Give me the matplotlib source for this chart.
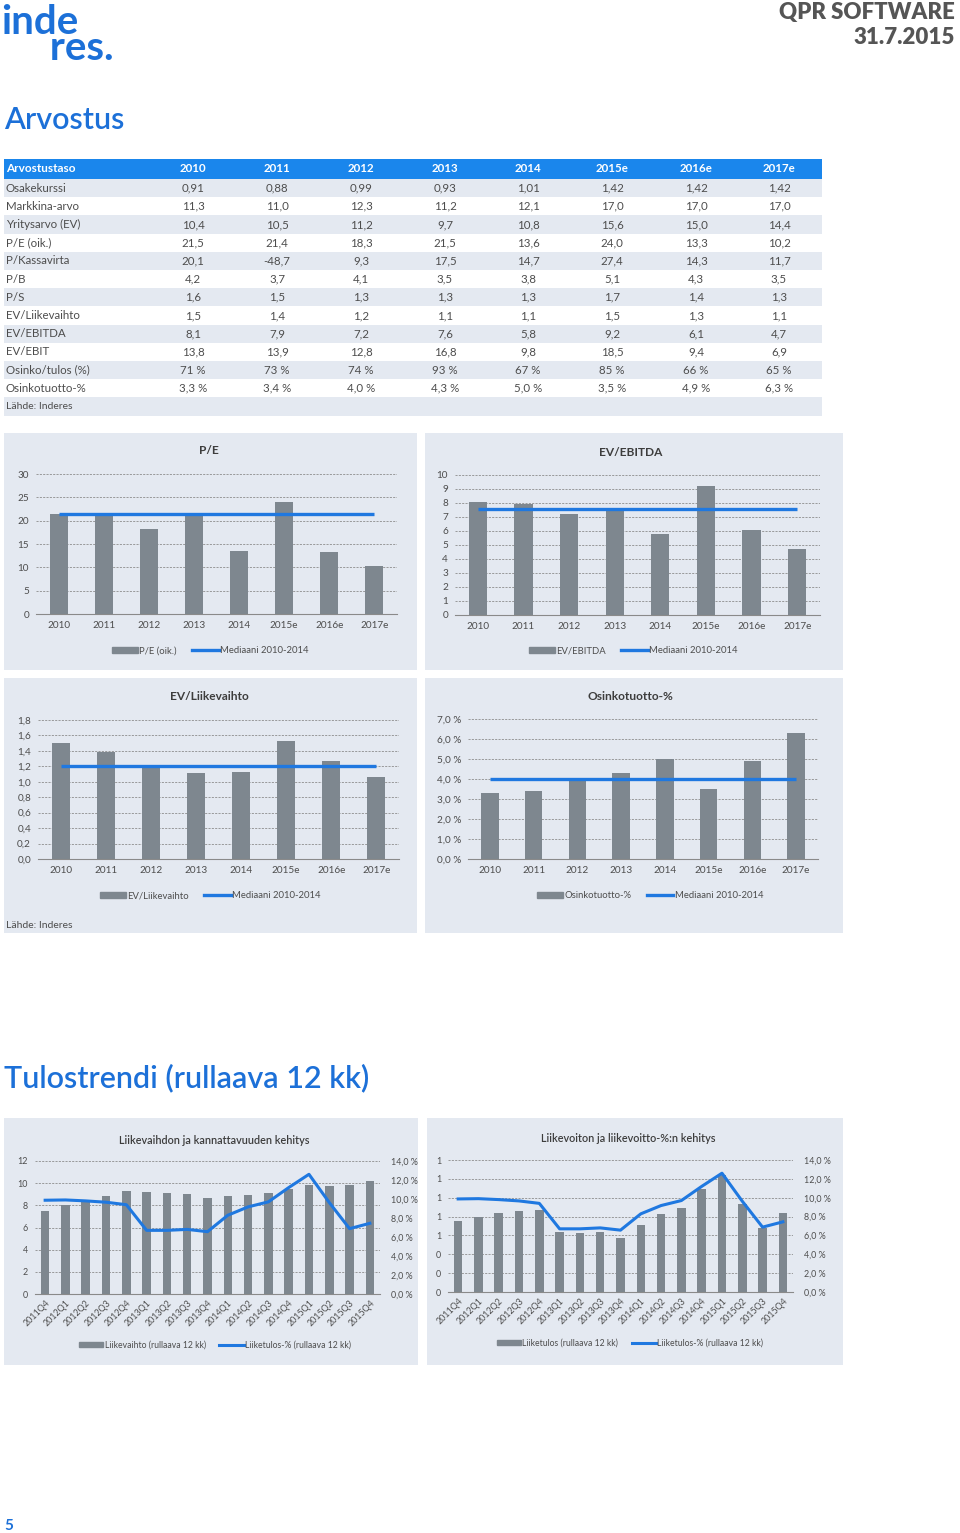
import numpy as np
import matplotlib
matplotlib.use("Agg")
import matplotlib.pyplot as plt
from matplotlib.patches import Rectangle, Patch
from matplotlib.lines import Line2D

plt.rcParams['font.family'] = ['Lato', 'DejaVu Sans']

# ---- data ----
years = ["2010", "2011", "2012", "2013", "2014", "2015e", "2016e", "2017e"]
row_labels = ["Osakekurssi", "Markkina-arvo", "Yritysarvo (EV)", "P/E (oik.)", "P/Kassavirta",
              "P/B", "P/S", "EV/Liikevaihto", "EV/EBITDA", "EV/EBIT", "Osinko/tulos (%)",
              "Osinkotuotto-%"]
osakekurssi = [0.91, 0.88, 0.99, 0.93, 1.01, 1.42, 1.42, 1.42]
markkina_arvo = [11.3, 11.0, 12.3, 11.2, 12.1, 17.0, 17.0, 17.0]
yritysarvo = [10.4, 10.5, 11.2, 9.7, 10.8, 15.6, 15.0, 14.4]
pe = [21.5, 21.4, 18.3, 21.5, 13.6, 24.0, 13.3, 10.2]
p_kassavirta = [20.1, -48.7, 9.3, 17.5, 14.7, 27.4, 14.3, 11.7]
pb = [4.2, 3.7, 4.1, 3.5, 3.8, 5.1, 4.3, 3.5]
ps = [1.6, 1.5, 1.3, 1.3, 1.3, 1.7, 1.4, 1.3]
ev_liikevaihto = [1.5, 1.4, 1.2, 1.1, 1.1, 1.5, 1.3, 1.1]
ev_ebitda = [8.1, 7.9, 7.2, 7.6, 5.8, 9.2, 6.1, 4.7]
ev_ebit = [13.8, 13.9, 12.8, 16.8, 9.8, 18.5, 9.4, 6.9]
osinko_tulos = [71, 73, 74, 93, 67, 85, 66, 65]
osinkotuotto = [3.3, 3.4, 4.0, 4.3, 5.0, 3.5, 4.9, 6.3]

# EV/Liikevaihto as drawn in the chart (unrounded)
ev_liikevaihto_chart = [1.50, 1.39, 1.20, 1.12, 1.13, 1.53, 1.27, 1.06]

quarters = ["2011Q4", "2012Q1", "2012Q2", "2012Q3", "2012Q4", "2013Q1", "2013Q2", "2013Q3",
            "2013Q4", "2014Q1", "2014Q2", "2014Q3", "2014Q4", "2015Q1", "2015Q2", "2015Q3",
            "2015Q4"]
liikevaihto_12kk = [7.5, 8.0, 8.45, 8.85, 9.27, 9.18, 9.1, 9.06, 8.7, 8.82, 8.97, 9.15,
                    9.5, 9.82, 9.76, 9.83, 10.2]
liiketulos_pct = [9.87, 9.9, 9.8, 9.66, 9.4, 6.7, 6.7, 6.8, 6.56, 8.29, 9.17, 9.7,
                  11.2, 12.6, 9.63, 6.88, 7.44]
liiketulos_12kk = [0.75, 0.80, 0.84, 0.86, 0.87, 0.64, 0.63, 0.64, 0.575, 0.71, 0.83, 0.89,
                   1.09, 1.24, 0.93, 0.68, 0.84]

# ---- style ----
W, H = 960, 1533
BLUE = "#1f78e0"
HEAD_BLUE = "#1a86ec"
TITLE_BLUE = "#1c70d8"
GRAY = "#7e878f"
PANEL = "#e4e9f1"
TXT = "#4d4d4d"

fig = plt.figure(figsize=(W / 100, H / 100), dpi=100)
bg = fig.add_axes([0, 0, 1, 1])
bg.set_xlim(0, W)
bg.set_ylim(H, 0)
bg.axis("off")


def px_axes(x, y, w, h):
    return fig.add_axes([x / W, 1 - (y + h) / H, w / W, h / H])


def fi(v, d=1):
    return f"{v:.{d}f}".replace(".", ",")


# ---- header ----
bg.text(1, 4, "inde\n     res.", color=TITLE_BLUE, fontsize=29, fontweight="bold",
        va="top", ha="left", linespacing=0.62)
bg.text(955, 12, "QPR SOFTWARE", color="#555555", fontsize=16, fontweight="heavy",
        ha="right", va="center")
bg.text(955, 38, "31.7.2015", color="#555555", fontsize=16, fontweight="heavy",
        ha="right", va="center")
bg.text(4, 120, "Arvostus", color=TITLE_BLUE, fontsize=22, fontweight="semibold", va="center")
bg.text(4, 1078, "Tulostrendi (rullaava 12 kk)", color=TITLE_BLUE, fontsize=22,
        fontweight="semibold", va="center")
bg.text(4, 1526, "5", color=TITLE_BLUE, fontsize=11, fontweight="bold", va="center")

# ---- table ----
table_rows = [
    [fi(v, 2) for v in osakekurssi],
    [fi(v) for v in markkina_arvo],
    [fi(v) for v in yritysarvo],
    [fi(v) for v in pe],
    [fi(v) for v in p_kassavirta],
    [fi(v) for v in pb],
    [fi(v) for v in ps],
    [fi(v) for v in ev_liikevaihto],
    [fi(v) for v in ev_ebitda],
    [fi(v) for v in ev_ebit],
    [f"{v} %" for v in osinko_tulos],
    [fi(v) + " %" for v in osinkotuotto],
]
tx0, tx1 = 4, 822
col_x = [193, 277, 361, 445, 528, 612, 696, 779]
head_top, head_h, row_h = 159, 20, 18.2
bg.add_patch(Rectangle((tx0, head_top), tx1 - tx0, head_h, color=HEAD_BLUE, lw=0))
hy = head_top + head_h / 2
bg.text(6, hy, "Arvostustaso", color="white", fontsize=8.5, fontweight="bold", va="center")
for cx, yr in zip(col_x, years):
    bg.text(cx, hy, yr, color="white", fontsize=8.3, fontweight="bold", va="center", ha="center")
for i, (lab, vals) in enumerate(zip(row_labels, table_rows)):
    top = head_top + head_h + i * row_h
    if i % 2 == 0:
        bg.add_patch(Rectangle((tx0, top), tx1 - tx0, row_h, color=PANEL, lw=0))
    cy = top + row_h / 2
    bg.text(6, cy, lab, color=TXT, fontsize=8.3, va="center")
    for cx, v in zip(col_x, vals):
        bg.text(cx, cy, v, color=TXT, fontsize=8.3, va="center", ha="center")
top = head_top + head_h + len(row_labels) * row_h
bg.add_patch(Rectangle((tx0, top), tx1 - tx0, row_h, color=PANEL, lw=0))
bg.text(6, top + row_h / 2, "Lähde: Inderes", color=TXT, fontsize=7.5, va="center")


# ---- chart panels ----
def panel(x0, y0, x1, y1):
    bg.add_patch(Rectangle((x0, y0), x1 - x0, y1 - y0, color=PANEL, lw=0))


def style_axes(ax, fs=7.2):
    ax.patch.set_alpha(0)
    for s in ["top", "left", "right"]:
        ax.spines[s].set_visible(False)
    ax.spines["bottom"].set_color("#8a8a8a")
    ax.spines["bottom"].set_linewidth(0.8)
    ax.yaxis.grid(True, linestyle=(0, (2.5, 1.5)), color="#8c8c8c", linewidth=0.6)
    ax.set_axisbelow(True)
    ax.tick_params(length=0, labelsize=fs, colors=TXT, pad=5)


def legend(handles, labels, cx, cy, fs=6.8):
    fig.legend(handles, labels, loc="center", bbox_to_anchor=(cx / W, 1 - cy / H), ncol=2,
               frameon=False, fontsize=fs, handlelength=2.8, handleheight=0.6,
               handletextpad=0.15, columnspacing=1.6, labelcolor=TXT)


def median_chart(rect, title, title_xy, values, ylim, yticks, ylabels, bar_label, leg_xy):
    ax = px_axes(*rect)
    style_axes(ax)
    x = np.arange(len(years))
    ax.bar(x, values, width=0.4, color=GRAY, zorder=2)
    med = np.median(values[:5])
    ax.plot([x[0], x[-1]], [med, med], color=BLUE, lw=2.4, zorder=3, solid_capstyle="butt")
    ax.set_xlim(-0.5, len(years) - 0.5)
    ax.set_ylim(*ylim)
    ax.set_yticks(yticks, ylabels)
    ax.set_xticks(x, years)
    bg.text(title_xy[0], title_xy[1], title, color="#3d3d3d", fontsize=8.6, fontweight="bold",
            ha="center", va="center")
    legend([Patch(color=GRAY), Line2D([], [], color=BLUE, lw=2.4)],
           [bar_label, "Mediaani 2010-2014"], *leg_xy)
    return ax


panel(4, 433, 417, 670)
panel(425, 433, 843, 670)
panel(4, 678, 417, 933)
panel(425, 678, 843, 933)
panel(4, 1118, 418, 1365)
panel(427, 1118, 843, 1365)

t = np.arange(0, 31, 5)
median_chart((36, 474, 361, 140), "P/E", (209, 451), pe, (0, 30), t,
             [str(v) for v in t], "P/E (oik.)", (210, 651))
t = np.arange(0, 11)
median_chart((455, 475, 365, 140), "EV/EBITDA", (631, 452), ev_ebitda, (0, 10), t,
             [str(v) for v in t], "EV/EBITDA", (633, 651))
t = np.arange(0, 1.81, 0.2)
median_chart((38, 720, 361, 139), "EV/Liikevaihto", (209, 697), ev_liikevaihto_chart,
             (0, 1.8), t, [fi(v) for v in t], "EV/Liikevaihto", (210, 896))
t = np.arange(0, 7.1, 1.0)
median_chart((468, 719, 350, 140), "Osinkotuotto-%", (630, 696), osinkotuotto, (0, 7), t,
             [fi(v) + " %" for v in t], "Osinkotuotto-%", (650, 896))
bg.text(6, 926, "Lähde: Inderes", color=TXT, fontsize=7.5, va="center")


# ---- trend charts ----
def trend_chart(rect, title, title_xy, bars, bar_label, ylim, yticks, ylabels, leg_xy):
    ax = px_axes(*rect)
    style_axes(ax, fs=6.4)
    x = np.arange(len(quarters))
    ax.bar(x, bars, width=0.42, color=GRAY, zorder=2)
    ax.set_xlim(-0.5, len(quarters) - 0.5)
    ax.set_ylim(*ylim)
    ax.set_yticks(yticks, ylabels)
    ax.set_xticks(x, quarters, rotation=45, ha="right", rotation_mode="anchor")
    ax.tick_params(axis="x", pad=3)
    ax2 = ax.twinx()
    ax2.plot(x, liiketulos_pct, color=BLUE, lw=2.2, zorder=4)
    ax2.set_ylim(0, 14)
    r = np.arange(0, 14.1, 2)
    ax2.set_yticks(r, [fi(v) + " %" for v in r])
    for s in ["top", "left", "right", "bottom"]:
        ax2.spines[s].set_visible(False)
    ax2.tick_params(length=0, labelsize=6.4, colors=TXT, pad=8)
    bg.text(title_xy[0], title_xy[1], title, color="#3d3d3d", fontsize=7.8, fontweight="semibold",
            ha="center", va="center")
    legend([Patch(color=GRAY), Line2D([], [], color=BLUE, lw=2.2)],
           [bar_label, "Liiketulos-% (rullaava 12 kk)"], *leg_xy, fs=6.2)


t = np.arange(0, 13, 2)
trend_chart((35, 1161, 345, 133), "Liikevaihdon ja kannattavuuden kehitys", (214, 1141),
            liikevaihto_12kk, "Liikevaihto (rullaava 12 kk)", (0, 12), t,
            [str(v) for v in t], (215, 1345))
t = np.arange(0, 1.41, 0.2)
trend_chart((448, 1160, 345, 132), "Liikevoiton ja liikevoitto-%:n kehitys", (628, 1139),
            liiketulos_12kk, "Liiketulos (rullaava 12 kk)", (0, 1.4), t,
            [f"{v:.0f}" for v in np.round(t, 1)], (630, 1343))

fig.savefig("out.png", dpi=100)
